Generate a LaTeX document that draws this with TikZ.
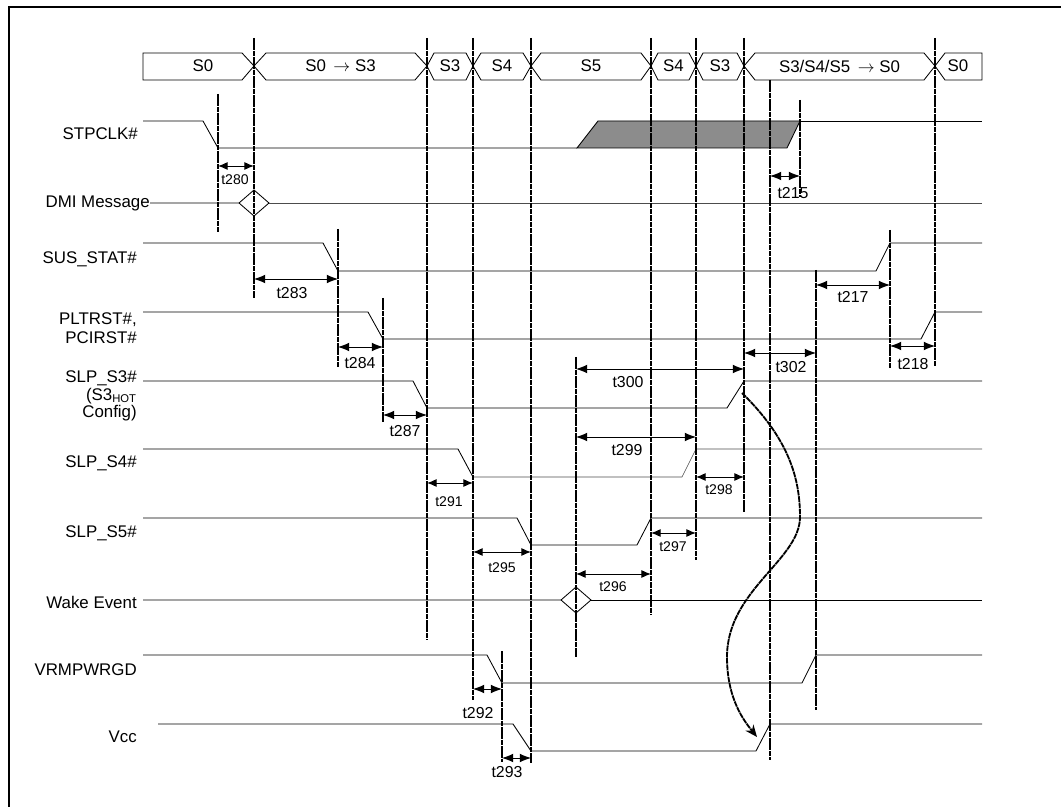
\documentclass[tikz,border=0pt]{standalone}
\usepackage{fontspec}
\setmainfont{Liberation Sans}
\usetikzlibrary{arrows.meta}

\begin{document}
\begin{tikzpicture}[
      x=0.025cm,y=-0.025cm,
      font=\fontsize{12}{13.5}\selectfont,
      sig/.style={line width=0.6pt},
      vline/.style={line width=1.3pt,dash pattern=on 4pt off 0.5pt},
      tarr/.style={{Latex[length=2.8mm,width=2.2mm]}-{Latex[length=2.8mm,width=2.2mm]},line width=0.7pt},
      sarr/.style={{Latex[length=2.4mm,width=2mm]}-{Latex[length=2.4mm,width=2mm]},line width=0.7pt},
      tlab/.style={inner sep=0pt,font=\fontsize{11.3}{12}\selectfont},
      tsmall/.style={inner sep=0pt,font=\fontsize{10}{11}\selectfont},
      sname/.style={anchor=east,align=right,inner sep=0pt},
    ]
    \useasboundingbox (0,0) rectangle (1061,807);
    \draw[line width=1.5pt] (9,807) -- (9,7) -- (1061,7);

    % state bar
    \draw[sig] (143,53) -- (242,53) -- (254,66) -- (242,80) -- (143,80) -- cycle;
    \node (st0) at (203,66) {S0};
    \foreach \a/\b/\s/\t [count=\i] in {254/427/12/{S0 \,$\rightarrow$ S3},427/473/7/S3,473/531/8/S4,
        531/651/10/S5,651/696/7/S4,696/744/7/S3,744/935/11/{S3/S4/S5 \,$\rightarrow$ S0}}{
      \draw[sig] (\a,66) -- (\a+\s,53) -- (\b-\s,53) -- (\b,66) -- (\b-\s,80) -- (\a+\s,80) -- cycle;
      \node (st\i) at ({(\a+\b)/2},66) {\t};
    }
    \draw[sig] (935,66) -- (945,53) -- (982,53) -- (982,80) -- (945,80) -- cycle;
    \node (st8) at (958,66) {S0};

    % signal names
    \node[sname] (stpclk) at (138,134) {STPCLK\#};
    \node[sname] (dmi) at (150,203) {DMI Message};
    \node[sname] (susstat) at (137,259) {SUS\_STAT\#};
    \node[sname] (pltrst) at (137,328) {PLTRST\#,\\PCIRST\#};
    \node[sname,font=\fontsize{12}{12.5}\selectfont] (slps3) at (137,396) {SLP\_S3\#\\(S3\textsubscript{HOT}\\Config)};
    \node[sname] (slps4) at (137,463) {SLP\_S4\#};
    \node[sname] (slps5) at (137,533) {SLP\_S5\#};
    \node[sname] (wake) at (137,602) {Wake Event};
    \node[sname] (vrm) at (137,670) {VRMPWRGD};
    \node[sname] (vcc) at (137,737) {Vcc};

    % waveforms
    \filldraw[sig,fill=black!45] (577,148) -- (598,121) -- (800,121) -- (787,148) -- cycle;
    \draw[sig] (143,121) -- (203,121) -- (218,148) -- (577,148);
    \draw[sig] (800,121) -- (982,121);
    \draw[sig] (dmi.east) -- (239,203) -- (254,190) -- (269,203) -- (254,216) -- (239,203);
    \draw[line width=0.4pt,black!70] (269,203) -- (982,203);
    \draw[sig] (143,243) -- (323,243) -- (338,271) -- (876,271) -- (890,243) -- (982,243);
    \draw[sig] (143,312) -- (368,312) -- (383,339) -- (921,339) -- (935,312) -- (982,312);
    \draw[sig] (143,381) -- (413,381) -- (427,408) -- (727,408) -- (744,381) -- (982,381);
    \draw[sig] (143,449) -- (458,449) -- (473,477);
    \draw[line width=0.4pt,black!70] (473,477) -- (682,477) -- (696,449) -- (982,449);
    \draw[sig] (143,518) -- (517,518) -- (531,545) -- (637,545) -- (651,518) -- (982,518);
    \draw[sig] (143,600) -- (561,600) -- (576,587) -- (591,600) -- (576,613) -- (561,600);
    \draw[sig] (591,600) -- (982,600);
    \draw[sig] (143,655) -- (487,655) -- (502,683) -- (802,683) -- (816,655) -- (982,655);
    \draw[sig] (158,724) -- (513,724) -- (531,751) -- (756,751) -- (770,724) -- (982,724);

    % markers
    \foreach \x/\ya/\yb in {254/38/298,427/38/640,473/38/700,531/38/763,651/38/615,696/38/560,
        744/38/512,935/38/367,218/94/232,338/229/367,383/298/422,576/357/657,770/80/760,
        800/100/197,816/270/710,890/230/368,502/651/762}
      \draw[vline] (\x,\ya) -- (\x,\yb);

    % timings
    \foreach \a/\b/\y/\lx/\ly/\t in {254/338/279/292/293/t283,338/383/347/360/363/t284,
        383/427/415/405/431/t287,473/502/689/478/713/t292,502/531/758/507/772/t293,
        576/696/437/627/450/t299,576/744/369/628/382/t300,744/816/353/791/367/t302,
        816/890/285/853/297/t217,890/935/346/913/364/t218,770/800/176/793/193/t215}{
      \draw[tarr] (\a,\y) -- (\b,\y);
      \node[tlab] (\t) at (\lx,\ly) {\t};
    }
    \foreach \a/\b/\y/\lx/\ly/\t in {218/254/166/235/180/t280,427/473/483/449/502/t291,
        473/531/552/502/568/t295,576/651/574/613/587/t296,651/696/533/673/547/t297,
        696/744/477/719/490/t298}{
      \draw[sarr] (\a,\y) -- (\b,\y);
      \node[tsmall] (\t) at (\lx,\ly) {\t};
    }

    \draw[vline,-{Stealth[length=3mm,width=2.5mm]}] (742,393) .. controls (790,440) and (800,480) .. (800,517)
      .. controls (800,560) and (727,590) .. (727,657) .. controls (727,700) and (745,722) .. (757,737);
  \end{tikzpicture}
\end{document}
